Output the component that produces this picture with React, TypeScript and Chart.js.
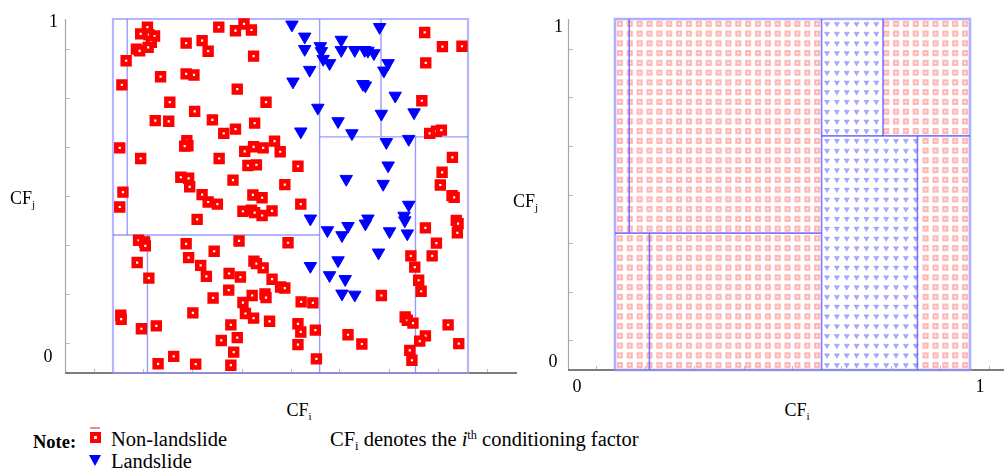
import React, { useEffect, useRef } from 'react';
import { Chart, registerables } from 'chart.js';

Chart.register(...registerables);

// ---------- data (CF values normalised to the partition box [0,1]) ----------
const nonLandslideX = [
  0.097, 0.078, 0.101, 0.117, 0.108, 0.066, 0.075, 0.099, 0.037, 0.025, 0.019, 0.078, 0.028,
  0.298, 0.345, 0.369, 0.390, 0.206, 0.251, 0.268, 0.396, 0.134, 0.206, 0.228, 0.350, 0.160,
  0.431, 0.230, 0.119, 0.157, 0.280, 0.399, 0.345, 0.312, 0.208, 0.211, 0.202, 0.371, 0.396,
  0.423, 0.455, 0.471, 0.299, 0.380, 0.404, 0.191, 0.213, 0.216, 0.251, 0.338, 0.394, 0.484,
  0.521, 0.019, 0.268, 0.294, 0.237, 0.420, 0.366, 0.390, 0.399, 0.420, 0.448, 0.529, 0.072,
  0.089, 0.091, 0.206, 0.355, 0.493, 0.285, 0.068, 0.213, 0.247, 0.263, 0.101, 0.327, 0.359,
  0.397, 0.404, 0.423, 0.448, 0.472, 0.484, 0.326, 0.282, 0.392, 0.428, 0.431, 0.366, 0.373,
  0.396, 0.441, 0.022, 0.023, 0.225, 0.080, 0.122, 0.332, 0.305, 0.350, 0.340, 0.127, 0.171,
  0.233, 0.332, 0.878, 0.928, 0.983, 0.881, 0.870, 0.892, 0.911, 0.925, 0.956, 0.927, 0.922,
  0.955, 0.961, 0.530, 0.563, 0.521, 0.529, 0.570, 0.521, 0.573, 0.756, 0.662, 0.701, 0.880,
  0.911, 0.899, 0.839, 0.850, 0.861, 0.868, 0.967, 0.972, 0.970, 0.823, 0.829, 0.845, 0.880,
  0.864, 0.944, 0.974, 0.836, 0.842,
];
const nonLandslideY = [
  0.977, 0.958, 0.956, 0.952, 0.934, 0.915, 0.910, 0.920, 0.882, 0.814, 0.636, 0.606, 0.511,
  0.977, 0.967, 0.986, 0.969, 0.932, 0.939, 0.909, 0.895, 0.837, 0.845, 0.842, 0.802, 0.765,
  0.765, 0.739, 0.713, 0.711, 0.715, 0.706, 0.689, 0.677, 0.656, 0.642, 0.641, 0.626, 0.639,
  0.636, 0.655, 0.625, 0.606, 0.586, 0.588, 0.553, 0.550, 0.526, 0.504, 0.545, 0.503, 0.532,
  0.584, 0.469, 0.483, 0.477, 0.434, 0.495, 0.457, 0.460, 0.453, 0.445, 0.458, 0.477, 0.375,
  0.370, 0.359, 0.365, 0.373, 0.368, 0.344, 0.312, 0.326, 0.304, 0.273, 0.268, 0.281, 0.271,
  0.316, 0.309, 0.297, 0.265, 0.243, 0.240, 0.234, 0.212, 0.219, 0.223, 0.213, 0.199, 0.168,
  0.155, 0.146, 0.163, 0.152, 0.170, 0.125, 0.133, 0.136, 0.092, 0.100, 0.059, 0.026, 0.047,
  0.025, 0.022, 0.962, 0.922, 0.923, 0.876, 0.769, 0.677, 0.683, 0.686, 0.609, 0.567, 0.531,
  0.501, 0.496, 0.201, 0.198, 0.139, 0.116, 0.121, 0.080, 0.040, 0.219, 0.108, 0.082, 0.410,
  0.367, 0.331, 0.331, 0.299, 0.262, 0.231, 0.431, 0.422, 0.396, 0.158, 0.149, 0.141, 0.105,
  0.090, 0.136, 0.083, 0.064, 0.036,
];
const landslideX = [
  0.504, 0.540, 0.540, 0.584, 0.587, 0.592, 0.610, 0.643, 0.643, 0.681, 0.709, 0.718, 0.735,
  0.751, 0.554, 0.507, 0.775, 0.763, 0.704, 0.711, 0.795, 0.577, 0.756, 0.848, 0.634, 0.673,
  0.529, 0.770, 0.833, 0.775, 0.657, 0.761, 0.833, 0.820, 0.822, 0.718, 0.711, 0.662, 0.645,
  0.604, 0.556, 0.779, 0.829, 0.748, 0.634, 0.556, 0.610, 0.654, 0.645, 0.681,
];
const landslideY = [
  0.984, 0.950, 0.915, 0.923, 0.909, 0.887, 0.875, 0.941, 0.912, 0.912, 0.912, 0.910, 0.903,
  0.977, 0.856, 0.823, 0.875, 0.854, 0.816, 0.812, 0.783, 0.749, 0.732, 0.736, 0.711, 0.677,
  0.682, 0.652, 0.661, 0.586, 0.548, 0.534, 0.475, 0.444, 0.431, 0.436, 0.422, 0.415, 0.389,
  0.403, 0.436, 0.400, 0.394, 0.340, 0.318, 0.302, 0.276, 0.265, 0.224, 0.221,
];

// prediction grid (36 x 36 cells over the partition box)
const gridValues = [
  0.0139, 0.0417, 0.0694, 0.0972, 0.125, 0.1528, 0.1806, 0.2083, 0.2361, 0.2639, 0.2917, 0.3194,
  0.3472, 0.375, 0.4028, 0.4306, 0.4583, 0.4861, 0.5139, 0.5417, 0.5694, 0.5972, 0.625, 0.6528,
  0.6806, 0.7083, 0.7361, 0.7639, 0.7917, 0.8194, 0.8472, 0.875, 0.9028, 0.9306, 0.9583, 0.9861,
];

// decision-tree partitions: [x0, y0, x1, y1]
const splitSegments = [
  [0.04, 0.39, 0.04, 1],
  [0.097, 0, 0.097, 0.39],
  [0, 0.39, 0.582, 0.39],
  [0.582, 0, 0.582, 1],
  [0.582, 0.667, 1, 0.667],
  [0.755, 0.667, 0.755, 1],
  [0.852, 0, 0.852, 0.667],
];
// regions predicted as landslide: [x0, x1, y0, y1]
const landslideRegions = [
  [0.582, 0.755, 0.667, 1],
  [0.582, 0.852, 0, 0.667],
];
const boxX = [0, 1, 1, 0, 0];
const boxY = [0, 0, 1, 1, 0];

// axis decoration
const xTicks = [-0.054, 0.085, 0.223, 0.362, 0.5, 0.638, 0.777, 0.915, 1.054];
const yTicks = [0.085, 0.223, 0.362, 0.5, 0.638, 0.777, 0.915];
const axisTickLabels = ['0', '1'];

// ---------- plugin: axes, inward tick marks, tick labels ----------
const axesDecor = {
  id: 'axesDecor',
  beforeDatasetsDraw(chart: any, _args: any, opts: any) {
    const { ctx, chartArea, scales } = chart;
    const { left, right, top, bottom } = chartArea;
    const x = scales.x;
    const y = scales.y;
    ctx.save();
    ctx.strokeStyle = '#b9b9b9';
    ctx.lineWidth = 1;
    xTicks.forEach((v) => {
      const px = Math.round(x.getPixelForValue(v)) + 0.5;
      ctx.beginPath();
      ctx.moveTo(px, bottom);
      ctx.lineTo(px, bottom - 4);
      ctx.stroke();
    });
    yTicks.forEach((v) => {
      const py = Math.round(y.getPixelForValue(v)) + 0.5;
      ctx.beginPath();
      ctx.moveTo(left, py);
      ctx.lineTo(left + 5, py);
      ctx.stroke();
    });
    ctx.strokeStyle = '#a6a6a6';
    ctx.lineWidth = 1.2;
    ctx.beginPath();
    ctx.moveTo(left + 0.5, top);
    ctx.lineTo(left + 0.5, bottom);
    ctx.stroke();
    ctx.strokeStyle = '#7d7d7d';
    ctx.lineWidth = 1.8;
    ctx.beginPath();
    ctx.moveTo(left, bottom);
    ctx.lineTo(right, bottom);
    ctx.stroke();

    ctx.fillStyle = '#000';
    ctx.font = '18px "Liberation Serif"';
    ctx.textAlign = 'center';
    ctx.textBaseline = 'middle';
    (opts.yLabels || []).forEach((l: any) => {
      ctx.fillText(axisTickLabels[l.i], left + l.dx, y.getPixelForValue(l.value) + l.dy);
    });
    (opts.xLabels || []).forEach((l: any) => {
      ctx.fillText(axisTickLabels[l.i], x.getPixelForValue(l.value), bottom + l.dy);
    });
    ctx.restore();
  },
};

function segmentDatasets(color: string, width: number, boxColor: string, boxWidth: number) {
  const sets: any[] = splitSegments.map((s) => ({
    type: 'scatter',
    data: [
      { x: s[0], y: s[1] },
      { x: s[2], y: s[3] },
    ],
    showLine: true,
    borderColor: color,
    borderWidth: width,
    pointRadius: 0,
    clip: false,
  }));
  sets.push({
    type: 'scatter',
    data: boxX.map((v, i) => ({ x: v, y: boxY[i] })),
    showLine: true,
    borderColor: boxColor,
    borderWidth: boxWidth,
    pointRadius: 0,
    clip: false,
  });
  return sets;
}

function isLandslide(px: number, py: number) {
  return landslideRegions.some((r) => px >= r[0] && px <= r[1] && py >= r[2] && py <= r[3]);
}

const serif = '"Liberation Serif", "Times New Roman", serif';

function Sub({ children }: { children: React.ReactNode }) {
  return (
    <span style={{ fontSize: '0.62em', position: 'relative', top: '0.32em' }}>{children}</span>
  );
}
function Sup({ children }: { children: React.ReactNode }) {
  return (
    <span style={{ fontSize: '0.6em', position: 'relative', top: '-0.55em' }}>{children}</span>
  );
}

function Label({ left, cy, size = 18, center = false, bold = false, children }: any) {
  return (
    <div
      style={{
        position: 'absolute',
        left,
        top: cy,
        transform: center ? 'translate(-50%, -50%)' : 'translateY(-50%)',
        fontFamily: serif,
        fontSize: size,
        lineHeight: 1,
        fontWeight: bold ? 'bold' : 'normal',
        whiteSpace: 'nowrap',
        color: '#000',
      }}
    >
      {children}
    </div>
  );
}

export default function App() {
  const leftRef = useRef<HTMLCanvasElement>(null);
  const rightRef = useRef<HTMLCanvasElement>(null);

  useEffect(() => {
    const red = nonLandslideX.map((v, i) => ({ x: v, y: nonLandslideY[i] }));
    const blue = landslideX.map((v, i) => ({ x: v, y: landslideY[i] }));

    const left = new Chart(leftRef.current as HTMLCanvasElement, {
      type: 'scatter',
      data: {
        datasets: [
          {
            data: blue,
            pointStyle: 'triangle',
            rotation: 180,
            radius: 7.2,
            backgroundColor: '#0000ff',
            borderColor: '#0000ff',
            borderWidth: 1,
            clip: false,
          } as any,
          {
            data: red,
            pointStyle: 'rect',
            radius: 4.8,
            backgroundColor: '#ffffff',
            borderColor: '#ff0000',
            borderWidth: 4.6,
            clip: false,
          } as any,
          ...segmentDatasets('rgba(120,120,255,0.75)', 1.4, 'rgba(150,150,255,0.7)', 2.2),
        ],
      },
      options: {
        responsive: false,
        animation: false,
        events: [],
        layout: { autoPadding: false, padding: { left: 65, right: 3, top: 19, bottom: 27 } },
        scales: {
          x: { type: 'linear', min: -0.1352, max: 1.138, display: false },
          y: { type: 'linear', min: 0, max: 1, display: false },
        },
        plugins: {
          legend: { display: false },
          tooltip: { enabled: false },
          axesDecor: {
            yLabels: [
              { i: 1, value: 1, dx: -11.5, dy: 3 },
              { i: 0, value: 0, dx: -17, dy: -16 },
            ],
            xLabels: [],
          },
        } as any,
      },
      plugins: [axesDecor],
    } as any);

    const gridRed: any[] = [];
    const gridBlue: any[] = [];
    gridValues.forEach((gx) => {
      gridValues.forEach((gy) => {
        (isLandslide(gx, gy) ? gridBlue : gridRed).push({ x: gx, y: gy });
      });
    });

    const right = new Chart(rightRef.current as HTMLCanvasElement, {
      type: 'scatter',
      data: {
        datasets: [
          ...segmentDatasets('rgba(90,90,255,0.8)', 1.6, 'rgba(150,150,255,0.75)', 2.6),
          {
            data: gridBlue,
            pointStyle: 'triangle',
            rotation: 180,
            radius: 3,
            backgroundColor: 'rgba(100,100,255,0.55)',
            borderColor: 'rgba(100,100,255,0.55)',
            borderWidth: 0.5,
            clip: false,
          } as any,
          {
            data: gridRed,
            pointStyle: 'rect',
            radius: 3,
            backgroundColor: 'rgba(255,205,205,0.5)',
            borderColor: 'rgba(255,125,125,0.5)',
            borderWidth: 2,
            clip: false,
          } as any,
        ],
      },
      options: {
        responsive: false,
        animation: false,
        events: [],
        layout: { autoPadding: false, padding: { left: 48, right: 0, top: 19, bottom: 30 } },
        scales: {
          x: { type: 'linear', min: -0.1324, max: 1.0958, display: false },
          y: { type: 'linear', min: 0, max: 1, display: false },
        },
        plugins: {
          legend: { display: false },
          tooltip: { enabled: false },
          axesDecor: {
            yLabels: [
              { i: 1, value: 1, dx: -9.5, dy: 8 },
              { i: 0, value: 0, dx: -15, dy: -8 },
            ],
            xLabels: [
              { i: 0, value: -0.107, dy: 17 },
              { i: 1, value: 1.028, dy: 17 },
            ],
          },
        } as any,
      },
      plugins: [axesDecor],
    } as any);

    return () => {
      left.destroy();
      right.destroy();
    };
  }, []);

  return (
    <div
      style={{
        position: 'absolute',
        left: 0,
        top: 0,
        width: 1004,
        height: 469,
        background: '#fff',
        overflow: 'hidden',
      }}
    >
      <canvas ref={leftRef} width={520} height={400} style={{ position: 'absolute', left: 0, top: 0 }} />
      <canvas ref={rightRef} width={484} height={400} style={{ position: 'absolute', left: 520, top: 0 }} />

      <Label left={10} cy={198}>
        CF<Sub>j</Sub>
      </Label>
      <Label left={513} cy={201}>
        CF<Sub>j</Sub>
      </Label>
      <Label left={299} cy={410} center>
        CF<Sub>i</Sub>
      </Label>
      <Label left={797} cy={410} center>
        CF<Sub>i</Sub>
      </Label>

      <Label left={33} cy={442} size={18.5} bold>
        Note:
      </Label>
      <div
        style={{
          position: 'absolute',
          left: 90,
          top: 427,
          width: 10,
          height: 2,
          background: 'rgba(255,80,80,0.7)',
        }}
      />
      <div
        style={{
          position: 'absolute',
          left: 90,
          top: 432,
          width: 3,
          height: 3,
          border: '4px solid #ff0000',
          background: '#fff',
        }}
      />
      <div
        style={{
          position: 'absolute',
          left: 89,
          top: 455,
          width: 0,
          height: 0,
          borderLeft: '6.5px solid transparent',
          borderRight: '6.5px solid transparent',
          borderTop: '11px solid #0000ff',
        }}
      />
      <Label left={111} cy={439} size={20.5}>
        Non-landslide
      </Label>
      <Label left={111} cy={461} size={20.5}>
        Landslide
      </Label>
      <Label left={330} cy={439} size={20.5}>
        CF<Sub>i</Sub> denotes the <i>i</i>
        <Sup>th</Sup> conditioning factor
      </Label>
    </div>
  );
}
